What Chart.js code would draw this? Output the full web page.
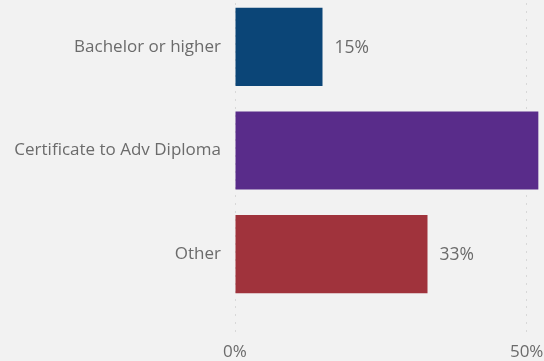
<!DOCTYPE html>
<html>
<head>
<meta charset="utf-8">
<script src="https://cdn.jsdelivr.net/npm/chart.js@4.4.1/dist/chart.umd.min.js"></script>
<style>
  html, body { margin: 0; padding: 0; background: #f2f2f2; overflow: hidden; }
  .wrap { position: absolute; left: 0; top: -5px; width: 585px; height: 366px; }
</style>
</head>
<body>
<div class="wrap"><canvas id="eduChart"></canvas></div>
<script>
// Qualification mix, percent of total
const categories = ['Bachelor or higher', 'Certificate to Adv Diploma', 'Other'];
const shares = [15, 52, 33];
const barColors = ['#0b4577', '#592c8a', '#a0333c'];
const xTicks = [0, 50];

const FONT = "'Open Sans', 'Noto Sans', sans-serif";
const TEXT = '#6b6b6b';
const GRID = '#d8d8d8';

// value labels just past the end of each bar
const barLabels = {
  id: 'barLabels',
  afterDatasetsDraw(chart) {
    const ctx = chart.ctx;
    const meta = chart.getDatasetMeta(0);
    ctx.save();
    ctx.font = '17.5px ' + FONT;
    ctx.fillStyle = TEXT;
    ctx.textAlign = 'left';
    ctx.textBaseline = 'middle';
    meta.data.forEach((bar, i) => {
      ctx.fillText(shares[i] + '%', bar.x + 12, bar.y + 1);
    });
    ctx.restore();
  }
};

// no extra label padding around the plot area
const noPad = (scale) => {
  scale.paddingTop = 0;
  scale.paddingBottom = 0;
  scale.paddingLeft = 0;
  scale.paddingRight = 0;
};

new Chart(document.getElementById('eduChart'), {
  type: 'bar',
  data: {
    labels: categories,
    datasets: [{
      data: shares,
      backgroundColor: barColors,
      borderWidth: 0,
      categoryPercentage: 1,
      barPercentage: 0.754
    }]
  },
  options: {
    indexAxis: 'y',
    responsive: true,
    maintainAspectRatio: false,
    animation: false,
    layout: { padding: 0 },
    plugins: {
      legend: { display: false },
      tooltip: { enabled: false }
    },
    scales: {
      x: {
        min: 0,
        max: 60,
        afterBuildTicks: (scale) => { scale.ticks = xTicks.map(v => ({ value: v })); },
        afterFit: (scale) => { scale.height = 55; noPad(scale); },
        border: { display: false, dash: [2, 6] },
        grid: {
          color: GRID,
          lineWidth: 1,
          tickLength: 31,
          tickColor: GRID,
          tickBorderDash: [2, 6]
        },
        ticks: {
          color: TEXT,
          font: { family: FONT, size: 17 },
          padding: 5,
          maxRotation: 0,
          callback: (v) => v + '%'
        }
      },
      y: {
        afterFit: (scale) => { scale.width = 235; noPad(scale); },
        border: { display: false },
        grid: { display: false, drawTicks: false },
        ticks: {
          color: TEXT,
          font: { family: FONT, size: 17 },
          padding: 14
        }
      }
    }
  },
  plugins: [barLabels]
});
</script>
</body>
</html>
